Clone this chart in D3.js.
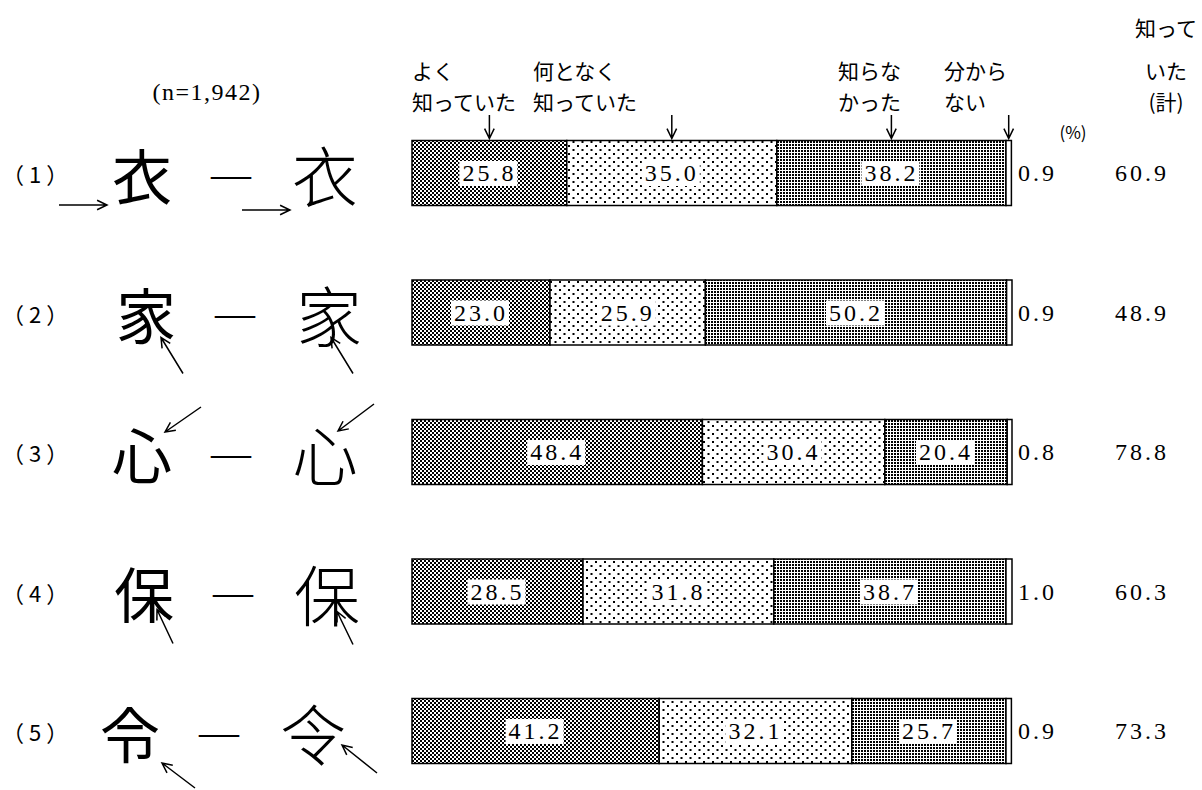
<html>
<head>
<meta charset="utf-8">
<script src="https://d3js.org/d3.v7.min.js"></script>
<style>
  body { margin: 0; background: #fff; }
  text { fill: #000; }
</style>
<script type="text/javascript">

// data
var rowLabels = ["（1）", "（2）", "（3）", "（4）", "（5）"];
var kanji = ["衣", "家", "心", "保", "令"];
var knewWell = [25.8, 23.0, 48.4, 28.5, 41.2];
var knewSomewhat = [35.0, 25.9, 30.4, 31.8, 32.1];
var didNotKnow = [38.2, 50.2, 20.4, 38.7, 25.7];
var dontKnow = [0.9, 0.9, 0.8, 1.0, 0.9];
var knewTotal = [60.9, 48.9, 78.8, 60.3, 73.3];
var headers = [["よく", "知っていた"], ["何となく", "知っていた"], ["知らな", "かった"], ["分から", "ない"]];
var totalHeader = ["知って", "いた", "(計)"];
var sampleNote = "(n=1,942)";
var unitNote = "(%)";

// little arrows next to the kanji, relative to the row centre: [x1, dy1, x2, dy2]
var kanjiArrows = [
  [[59, 32, 107, 32], [242, 37, 290, 37]],
  [[183, 61, 161, 25], [353, 61, 331, 25]],
  [[201, -45, 165, -20], [374, -48, 338, -21]],
  [[173, 52, 157, 18], [353, 53, 337, 20]],
  [[195, 57, 162, 32], [377, 42, 342, 14]]
];
var kanjiShift = [0, 4, 0, 2, -12];

window.onload = function()
{
  var svg = d3.select("body").append("svg").attr("width", 1202).attr("height", 790);

  var keys = ["well", "some", "not", "dk"];
  var table = rowLabels.map(function(r, i) {
    return {row: i, well: knewWell[i], some: knewSomewhat[i], not: didNotKnow[i], dk: dontKnow[i]};
  });

  var x = d3.scaleLinear().domain([0, 100]).range([412, 1012]);
  var y = d3.scalePoint().domain(d3.range(rowLabels.length)).range([173, 731]);
  var barH = 65;

  // fill patterns
  var defs = svg.append("defs");
  var p1 = defs.append("pattern").attr("id", "checker").attr("patternUnits", "userSpaceOnUse")
    .attr("width", 4).attr("height", 4);
  p1.append("rect").attr("width", 4).attr("height", 4).attr("fill", "#fff");
  p1.append("rect").attr("x", 0).attr("y", 0).attr("width", 2).attr("height", 2).attr("fill", "#000");
  p1.append("rect").attr("x", 2).attr("y", 2).attr("width", 2).attr("height", 2).attr("fill", "#000");

  var p2 = defs.append("pattern").attr("id", "sparse").attr("patternUnits", "userSpaceOnUse")
    .attr("width", 9).attr("height", 8);
  p2.append("rect").attr("width", 9).attr("height", 8).attr("fill", "#fff");
  p2.append("rect").attr("x", 1).attr("y", 1).attr("width", 2).attr("height", 2).attr("fill", "#000");
  p2.append("rect").attr("x", 5.5).attr("y", 5).attr("width", 2).attr("height", 2).attr("fill", "#000");

  var p3 = defs.append("pattern").attr("id", "dense").attr("patternUnits", "userSpaceOnUse")
    .attr("width", 3).attr("height", 3);
  p3.append("rect").attr("width", 3).attr("height", 3).attr("fill", "#fff");
  p3.append("rect").attr("x", 0).attr("y", 0).attr("width", 2).attr("height", 2).attr("fill", "#000");

  var fills = {well: "url(#checker)", some: "url(#sparse)", not: "url(#dense)", dk: "#fff"};

  var stacked = d3.stack().keys(keys)(table);

  var layers = svg.selectAll(".layer")
    .data(stacked)
    .enter().append("g")
    .attr("class", "layer")
    .attr("fill", function(d) { return fills[d.key]; });

  layers.selectAll("rect")
    .data(function(d) { return d; })
    .enter().append("rect")
    .attr("x", function(d) { return x(d[0]); })
    .attr("y", function(d, i) { return y(i) - barH / 2; })
    .attr("width", function(d) { return x(d[1]) - x(d[0]); })
    .attr("height", barH)
    .attr("stroke", "#000")
    .attr("stroke-width", 1.5);

  // value labels in the segments, on a white patch
  var numFont = "'Liberation Serif', serif";
  stacked.slice(0, 3).forEach(function(layer) {
    layer.forEach(function(d, i) {
      var g = svg.append("g");
      var t = g.append("text")
        .attr("x", x((d[0] + d[1]) / 2))
        .attr("y", y(i))
        .attr("text-anchor", "middle")
        .attr("dominant-baseline", "central")
        .style("font-family", numFont)
        .style("font-size", "24px")
        .style("letter-spacing", "3px")
        .text((d[1] - d[0]).toFixed(1));
      var b = t.node().getBBox();
      g.insert("rect", "text")
        .attr("x", b.x - 3).attr("y", b.y + 1)
        .attr("width", b.width + 4).attr("height", b.height - 1)
        .attr("fill", "#fff");
    });
  });

  // don't know values, right of the bar
  svg.selectAll(".dk")
    .data(dontKnow)
    .enter().append("text")
    .attr("x", x(100) + 6)
    .attr("y", function(d, i) { return y(i); })
    .attr("dominant-baseline", "central")
    .style("font-family", numFont)
    .style("font-size", "24px")
    .style("letter-spacing", "3px")
    .text(function(d) { return d.toFixed(1); });

  // total knew
  svg.selectAll(".tot")
    .data(knewTotal)
    .enter().append("text")
    .attr("x", 1142)
    .attr("y", function(d, i) { return y(i); })
    .attr("text-anchor", "middle")
    .attr("dominant-baseline", "central")
    .style("font-family", numFont)
    .style("font-size", "24px")
    .style("letter-spacing", "3px")
    .text(function(d) { return d.toFixed(1); });

  // header labels
  var jpFont = "'Noto Sans CJK JP', sans-serif";
  var headerX = [412, 533, 838, 944];
  var line1 = 79, line2 = 110;
  headers.forEach(function(lines, k) {
    lines.forEach(function(s, j) {
      svg.append("text")
        .attr("x", headerX[k])
        .attr("y", j === 0 ? line1 : line2)
        .style("font-family", jpFont)
        .style("font-size", "21px")
        .text(s);
    });
  });
  totalHeader.forEach(function(s, j) {
    svg.append("text")
      .attr("x", 1166)
      .attr("y", [36, line1, line2][j])
      .attr("text-anchor", "middle")
      .style("font-family", jpFont)
      .style("font-size", "21px")
      .text(s);
  });
  svg.append("text")
    .attr("x", 1073).attr("y", 131)
    .attr("text-anchor", "middle")
    .attr("dominant-baseline", "central")
    .style("font-family", jpFont)
    .style("font-size", "17px")
    .text(unitNote);
  svg.append("text")
    .attr("x", 207).attr("y", 92)
    .attr("text-anchor", "middle")
    .attr("dominant-baseline", "central")
    .style("font-family", numFont)
    .style("font-size", "24px")
    .style("letter-spacing", "1.5px")
    .text(sampleNote);

  function arrow(x1, y1, x2, y2) {
    var a = Math.atan2(y2 - y1, x2 - x1), L = 11, w = 0.45;
    var p = "M" + x1 + "," + y1 + "L" + x2 + "," + y2 +
      "M" + (x2 - L * Math.cos(a - w)) + "," + (y2 - L * Math.sin(a - w)) +
      "L" + x2 + "," + y2 +
      "L" + (x2 - L * Math.cos(a + w)) + "," + (y2 - L * Math.sin(a + w));
    svg.append("path").attr("d", p).attr("fill", "none")
      .attr("stroke", "#000").attr("stroke-width", 1.5);
  }

  // arrows from header to the first bar's segments
  stacked.forEach(function(layer) {
    var d = layer[0];
    var cx = x((d[0] + d[1]) / 2);
    arrow(cx, 115, cx, y(0) - barH / 2 - 2);
  });

  // row labels, kanji pairs
  rowLabels.forEach(function(r, i) {
    var cy = y(i), s = kanjiShift[i];
    svg.append("text")
      .attr("x", 2).attr("y", cy)
      .attr("dominant-baseline", "central")
      .style("font-family", jpFont)
      .style("font-size", "22px")
      .style("letter-spacing", "5px")
      .text(r);
    svg.append("text")
      .attr("x", 142 + s).attr("y", cy)
      .attr("text-anchor", "middle")
      .attr("dominant-baseline", "central")
      .style("font-family", jpFont)
      .style("font-size", "60px")
      .text(kanji[i]);
    svg.append("text")
      .attr("x", 231 + s).attr("y", cy)
      .attr("text-anchor", "middle")
      .attr("dominant-baseline", "central")
      .style("font-family", numFont)
      .style("font-size", "40px")
      .text("—");
    svg.append("text")
      .attr("x", 325 + s).attr("y", cy)
      .attr("text-anchor", "middle")
      .attr("dominant-baseline", "central")
      .style("font-family", "'Noto Sans CJK SC', sans-serif")
      .style("font-weight", 300)
      .style("font-size", "66px")
      .text(kanji[i]);
    kanjiArrows[i].forEach(function(a) {
      arrow(a[0], cy + a[1], a[2], cy + a[3]);
    });
  });
}

</script>
</head>
<body>
</body>
</html>
